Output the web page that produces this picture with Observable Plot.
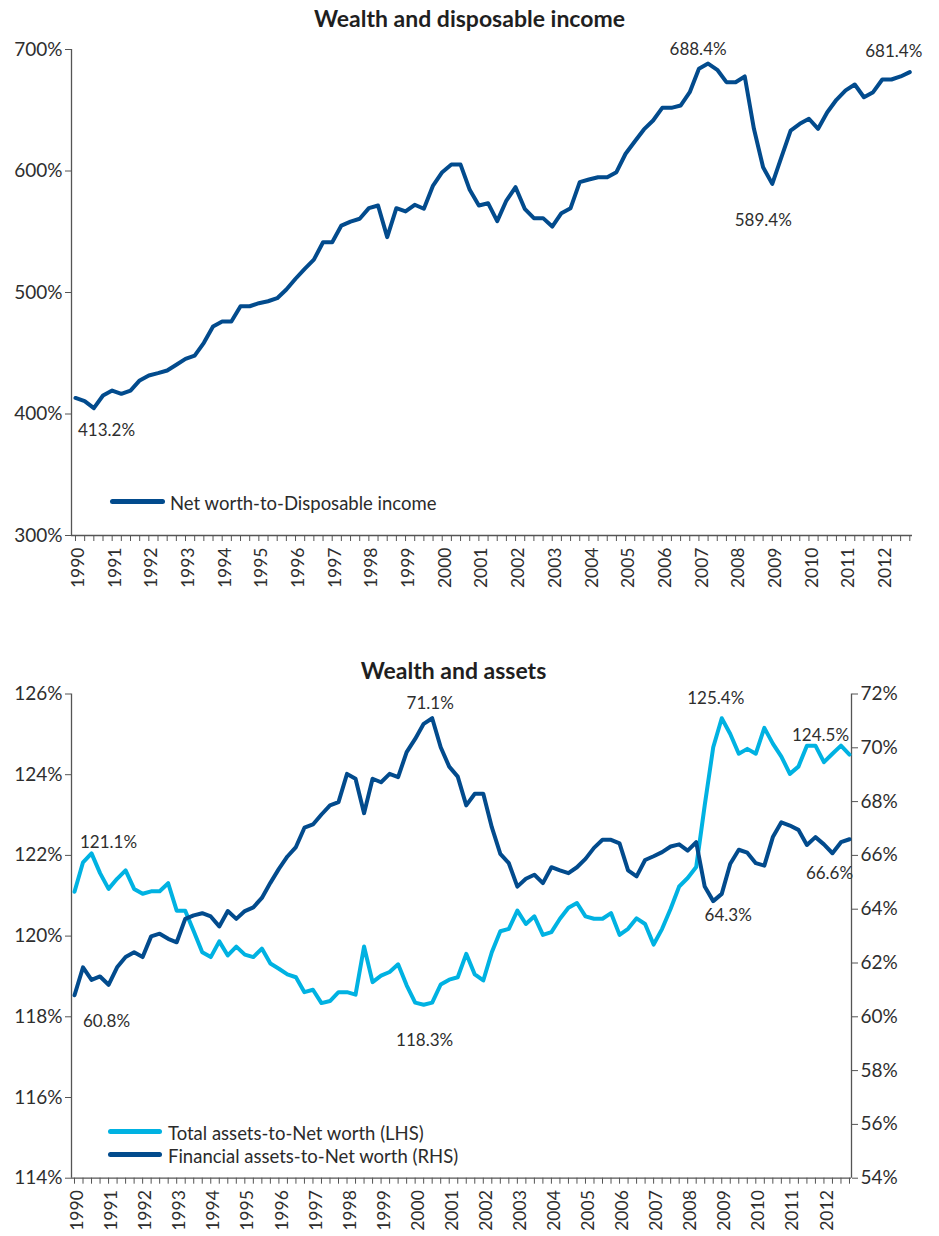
<!DOCTYPE html>
<html>
<head>
<meta charset="utf-8">
<script src="https://cdn.jsdelivr.net/npm/d3@7"></script>
<script src="https://cdn.jsdelivr.net/npm/@observablehq/plot@0.6"></script>
<style>
  html, body { margin: 0; padding: 0; background: #fff; }
  body { width: 939px; height: 1236px; position: relative; overflow: hidden; font-family: Lato, "Noto Sans", sans-serif; color: #2b2b2b; }
  .title { position: absolute; left: 0; width: 939px; text-align: center; font-weight: 700; font-size: 23px; line-height: 28px; color: #1f1f1f; }
  .chart { position: absolute; left: 0; }
  .leg { position: absolute; font-size: 18.5px; line-height: 22px; white-space: nowrap; color: #2b2b2b; }
  .swatch { position: absolute; height: 5px; border-radius: 3px; }
</style>
</head>
<body>
<div class="title" style="top:4px;">Wealth and disposable income</div>
<div id="c1" class="chart" style="top:0px;"></div>
<div class="title" style="top:656px; left:-16px;">Wealth and assets</div>
<div id="c2" class="chart" style="top:610px;"></div>

<div class="swatch" style="left:110px; top:499px; width:55px; background:#024B8D;"></div>
<div class="leg" style="left:170px; top:492px;">Net worth-to-Disposable income</div>

<div class="swatch" style="left:108px; top:1129px; width:54px; background:#00B2E2;"></div>
<div class="leg" style="left:168px; top:1122px;">Total assets-to-Net worth (LHS)</div>
<div class="swatch" style="left:108px; top:1152px; width:54px; background:#024B8D;"></div>
<div class="leg" style="left:168px; top:1145px;">Financial assets-to-Net worth (RHS)</div>

<script>
// ---------- data ----------
const yearLabels = d3.range(1990, 2013);

// Net worth-to-Disposable income (%), quarterly 1990Q1 - 2012Q4
const netWorthToIncome = [
  413.2, 410.6, 404.8, 415.2, 419.3, 416.6, 419.3, 427.6, 431.7, 433.6,
  435.8, 440.5, 445.4, 448.1, 458.6, 472.0, 476.1, 476.1, 488.7, 488.7,
  491.2, 492.8, 495.3, 502.5, 511.3, 519.5, 527.0, 541.4, 541.4, 555.1,
  558.4, 560.7, 569.4, 571.6, 545.6, 569.4, 566.7, 572.2, 568.9, 588.0,
  599.0, 605.3, 605.3, 584.5, 571.6, 573.5, 558.7, 575.7, 586.7, 568.9,
  561.2, 561.2, 554.3, 565.3, 569.4, 590.8, 593.0, 594.9, 594.9, 599.0,
  614.2, 624.3, 634.2, 641.6, 652.0, 652.0, 653.9, 664.9, 684.1, 688.4,
  683.3, 673.1, 673.1, 677.8, 634.7, 603.1, 589.4, 611.4, 633.3, 638.8,
  643.0, 634.7, 648.4, 658.6, 666.3, 671.2, 660.7, 664.9, 675.3, 675.3,
  677.8, 681.4
];

// Total assets-to-Net worth (LHS, %)
const totalAssetsToNetWorth = [
  121.1, 121.83, 122.05, 121.56, 121.17, 121.42, 121.63, 121.17, 121.05, 121.11,
  121.11, 121.31, 120.63, 120.63, 120.12, 119.6, 119.48, 119.87, 119.52, 119.74,
  119.54, 119.48, 119.69, 119.32, 119.19, 119.05, 118.98, 118.61, 118.67, 118.34,
  118.39, 118.61, 118.61, 118.55, 119.74, 118.86, 119.02, 119.11, 119.3, 118.78,
  118.35, 118.3, 118.35, 118.8, 118.92, 118.98, 119.56, 119.05, 118.9, 119.6,
  120.12, 120.18, 120.63, 120.3, 120.49, 120.03, 120.1, 120.43, 120.7, 120.82,
  120.49, 120.43, 120.43, 120.57, 120.03, 120.18, 120.44, 120.3, 119.79, 120.18,
  120.68, 121.23, 121.44, 121.71, 123.24, 124.68, 125.4, 125.01, 124.52, 124.64,
  124.52, 125.16, 124.77, 124.45, 124.02, 124.2, 124.72, 124.72, 124.31, 124.52,
  124.72, 124.5
];

// Financial assets-to-Net worth (RHS, %)
const financialAssetsToNetWorth = [
  60.8, 61.84, 61.37, 61.5, 61.19, 61.84, 62.22, 62.4, 62.22, 62.99,
  63.09, 62.9, 62.77, 63.64, 63.77, 63.85, 63.73, 63.36, 63.93, 63.64,
  63.93, 64.07, 64.42, 64.98, 65.5, 65.96, 66.31, 67.03, 67.15, 67.52,
  67.86, 67.98, 69.03, 68.85, 67.57, 68.85, 68.72, 69.03, 68.91, 69.84,
  70.33, 70.89, 71.1, 70.02, 69.3, 68.93, 67.86, 68.29, 68.29, 67.05,
  66.06, 65.71, 64.84, 65.13, 65.28, 64.97, 65.56, 65.44, 65.34, 65.56,
  65.87, 66.28, 66.58, 66.58, 66.45, 65.44, 65.22, 65.83, 65.97, 66.12,
  66.33, 66.41, 66.18, 66.49, 64.84, 64.3, 64.57, 65.69, 66.21, 66.1,
  65.71, 65.62, 66.68, 67.23, 67.11, 66.95, 66.39, 66.68, 66.41, 66.08,
  66.49, 66.6
];

const topTicks = [300, 400, 500, 600, 700];
const leftTicks = [114, 116, 118, 120, 122, 124, 126];
const rightTicks = [54, 56, 58, 60, 62, 64, 66, 68, 70, 72];

// ---------- helpers ----------
const DARK = "#024B8D";
const LIGHT = "#00B2E2";
const AXIS = "#555";
const quarterPos = netWorthToIncome.map((_, i) => 1990 + i / 4);
const topXDomain = [1989.891, 2012.824];
const botXDomain = [1989.912, 2012.809];
const leftDomain = [114, 126];
const rightDomain = [54, 72];
const toLeft = r => leftDomain[0] + (r - rightDomain[0]) * (leftDomain[1] - leftDomain[0]) / (rightDomain[1] - rightDomain[0]);
const fromLeft = l => rightDomain[0] + (l - leftDomain[0]) * (rightDomain[1] - rightDomain[0]) / (leftDomain[1] - leftDomain[0]);
const pct = v => v.toFixed(1) + "%";

function note(series, i, dx, dy, mapY = v => v) {
  return Plot.text([i], {
    x: k => quarterPos[k], y: k => mapY(series[k]), text: k => pct(series[k]),
    dx, dy, fontSize: 17, fill: "#2e2e2e"
  });
}

const baseStyle = { fontFamily: "Lato, 'Noto Sans', sans-serif", fontSize: "18px", color: "#2e2e2e", background: "transparent", overflow: "visible" };

// ---------- top chart ----------
const plot1 = Plot.plot({
  width: 939, height: 610,
  marginTop: 49, marginBottom: 75, marginLeft: 71, marginRight: 27,
  style: baseStyle,
  x: { type: "linear", domain: topXDomain },
  y: { domain: [300, 700] },
  marks: [
    Plot.axisY({ ticks: topTicks, tickFormat: d => d + "%", tickSize: 6, tickPadding: 3, stroke: AXIS, fontSize: 19, label: null }),
    Plot.axisX({ ticks: quarterPos, tickFormat: () => "", tickSize: 6, stroke: AXIS, label: null }),
    Plot.axisX({ ticks: yearLabels, tickFormat: d => String(d), tickSize: 0, tickPadding: 12, tickRotate: -90, fontSize: 17.5, dx: 3, label: null }),
    Plot.ruleX([topXDomain[0]], { stroke: AXIS, strokeWidth: 1.3 }),
    Plot.ruleY([300], { stroke: AXIS, strokeWidth: 1.3 }),
    Plot.lineY(netWorthToIncome, { x: (d, i) => quarterPos[i], y: d => d, stroke: DARK, strokeWidth: 4, strokeLinejoin: "round", strokeLinecap: "round" }),
    note(netWorthToIncome, 0, 31, 33),
    note(netWorthToIncome, 69, -10, -14),
    note(netWorthToIncome, 76, -9, 37),
    note(netWorthToIncome, 91, -16, -21)
  ]
});
document.getElementById("c1").appendChild(plot1);

// ---------- bottom chart ----------
const plot2 = Plot.plot({
  width: 939, height: 626,
  marginTop: 83.5, marginBottom: 58.3, marginLeft: 71, marginRight: 88,
  style: baseStyle,
  x: { type: "linear", domain: botXDomain },
  y: { domain: leftDomain },
  marks: [
    Plot.axisY({ ticks: leftTicks, tickFormat: d => d + "%", tickSize: 6, tickPadding: 3, stroke: AXIS, fontSize: 19, label: null }),
    Plot.axisY({ anchor: "right", ticks: rightTicks.map(toLeft), tickFormat: d => Math.round(fromLeft(d)) + "%", tickSize: 6, tickPadding: 3, stroke: AXIS, fontSize: 19, label: null }),
    Plot.axisX({ ticks: quarterPos, tickFormat: () => "", tickSize: 6, stroke: AXIS, label: null }),
    Plot.axisX({ ticks: yearLabels, tickFormat: d => String(d), tickSize: 0, tickPadding: 12, tickRotate: -90, fontSize: 17.5, dx: 3, label: null }),
    Plot.ruleX([botXDomain[0], botXDomain[1]], { stroke: AXIS, strokeWidth: 1.3 }),
    Plot.ruleY([leftDomain[0]], { stroke: AXIS, strokeWidth: 1.3 }),
    Plot.lineY(totalAssetsToNetWorth, { x: (d, i) => quarterPos[i], y: d => d, stroke: LIGHT, strokeWidth: 4, strokeLinejoin: "round", strokeLinecap: "round" }),
    Plot.lineY(financialAssetsToNetWorth, { x: (d, i) => quarterPos[i], y: d => toLeft(d), stroke: DARK, strokeWidth: 4, strokeLinejoin: "round", strokeLinecap: "round" }),
    note(totalAssetsToNetWorth, 0, 34, -49),
    note(financialAssetsToNetWorth, 0, 32, 26, toLeft),
    note(financialAssetsToNetWorth, 42, -2, -15, toLeft),
    note(totalAssetsToNetWorth, 41, 1, 36),
    note(totalAssetsToNetWorth, 76, -6, -20),
    note(totalAssetsToNetWorth, 91, -29, -19),
    note(financialAssetsToNetWorth, 75, 15, 14, toLeft),
    note(financialAssetsToNetWorth, 91, -20, 34, toLeft)
  ]
});
document.getElementById("c2").appendChild(plot2);
</script>
</body>
</html>
